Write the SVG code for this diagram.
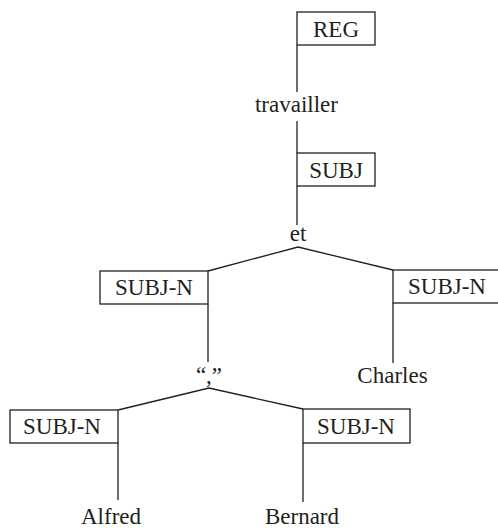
<svg xmlns="http://www.w3.org/2000/svg" width="498" height="528" viewBox="0 0 498 528">
  <style>
    .box { fill: #ffffff; stroke: #231f20; stroke-width: 1.3; }
    .lbl { font-family: 'Liberation Serif', 'Times New Roman', serif; font-size: 23px; fill: #231f20; text-anchor: middle; }
    .edge { fill: none; stroke: #231f20; stroke-width: 1.3; }
  </style>
  <rect width="498" height="528" fill="#ffffff"/>

  <!-- connectors -->
  <g id="connectors">
    <line class="edge" x1="297" y1="45" x2="297" y2="92"/>
    <line class="edge" x1="297" y1="121" x2="297" y2="153"/>
    <line class="edge" x1="297" y1="186" x2="297" y2="225"/>
    <polyline class="edge" points="208,271 298,247 393,270"/>
    <line class="edge" x1="208" y1="304" x2="208" y2="362"/>
    <line class="edge" x1="393" y1="303" x2="393" y2="363"/>
    <polyline class="edge" points="118,410 209,388 303,409"/>
    <line class="edge" x1="118" y1="443" x2="118" y2="500"/>
    <line class="edge" x1="303" y1="443" x2="303" y2="502"/>
  </g>

  <!-- relation boxes -->
  <g id="reg">
    <rect class="box" x="297" y="12" width="78" height="33"/>
    <text class="lbl" x="336" y="37">REG</text>
  </g>
  <g id="subj">
    <rect class="box" x="297" y="153" width="78" height="33"/>
    <text class="lbl" x="336" y="178">SUBJ</text>
  </g>
  <g id="subjn-left">
    <rect class="box" x="100" y="271" width="108" height="33"/>
    <text class="lbl" x="154" y="295">SUBJ-N</text>
  </g>
  <g id="subjn-right">
    <rect class="box" x="393" y="270" width="108" height="33"/>
    <text class="lbl" x="447" y="294">SUBJ-N</text>
  </g>
  <g id="subjn-alfred">
    <rect class="box" x="10" y="410" width="108" height="33"/>
    <text class="lbl" x="62" y="434">SUBJ-N</text>
  </g>
  <g id="subjn-bernard">
    <rect class="box" x="303" y="409" width="107" height="34"/>
    <text class="lbl" x="356" y="434">SUBJ-N</text>
  </g>

  <!-- word nodes -->
  <g id="travailler"><text class="lbl" x="296.5" y="112">travailler</text></g>
  <g id="et"><text class="lbl" x="298" y="241">et</text></g>
  <g id="comma"><text class="lbl" x="209" y="383">“,”</text></g>
  <g id="charles"><text class="lbl" x="392.5" y="383">Charles</text></g>
  <g id="alfred"><text class="lbl" x="111" y="524">Alfred</text></g>
  <g id="bernard"><text class="lbl" x="302" y="524">Bernard</text></g>
</svg>
